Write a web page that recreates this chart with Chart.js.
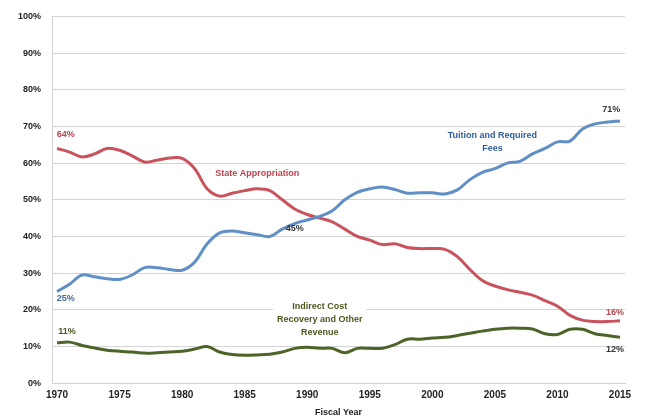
<!DOCTYPE html>
<html>
<head>
<meta charset="utf-8">
<script src="https://cdn.jsdelivr.net/npm/chart.js@4"></script>
<style>
  html, body { margin: 0; padding: 0; background: #fff; }
  #wrap { width: 661px; height: 420px; }
</style>
</head>
<body>
<div id="wrap"><canvas id="chart"></canvas></div>
<script>
const years = [];
for (let y = 1970; y <= 2015; y++) years.push(y);

const tuition = [25,27,29.5,29,28.5,28.3,29.5,31.5,31.5,31,30.8,33,38,41,41.5,41,40.5,40,42,43.5,
  44.5,45.5,47,50,52,53,53.5,52.8,51.8,51.9,51.9,51.6,52.7,55.5,57.5,58.5,60,60.5,62.5,64,
  65.8,66,69.3,70.7,71.2,71.5];
const state = [64,63,61.7,62.5,64,63.5,62,60.3,60.8,61.4,61.3,58.5,53,51,51.8,52.5,53,52.5,50,47.5,
  46,45,44,42,40,39,37.8,38,37,36.7,36.7,36.5,34.5,31,28,26.5,25.5,24.8,24,22.5,
  21,18.5,17.2,16.8,16.8,17];
const indirect = [11,11.2,10.3,9.6,9,8.7,8.5,8.2,8.3,8.5,8.7,9.3,10,8.5,7.8,7.6,7.7,7.9,8.5,9.5,
  9.8,9.5,9.5,8.3,9.5,9.5,9.5,10.5,12,12,12.3,12.5,13,13.6,14.2,14.7,15,15,14.8,13.5,
  13.3,14.7,14.7,13.5,13,12.5];

const xTicks = [1970,1975,1980,1985,1990,1995,2000,2005,2010,2015];
const yTicks = [0,10,20,30,40,50,60,70,80,90,100];

// text notes placed in data coordinates
const notes = [
  {x:1970.7, y:67.9, lines:['64%'], color:'#b5434c'},
  {x:1970.7, y:23.1, lines:['25%'], color:'#46679a'},
  {x:1970.8, y:14.1, lines:['11%'], color:'#4b5a25'},
  {x:1989.0, y:42.2, lines:['45%'], color:'#333'},
  {x:2014.3, y:74.7, lines:['71%'], color:'#333'},
  {x:2014.6, y:19.3, lines:['16%'], color:'#b5434c'},
  {x:2014.6, y:9.2, lines:['12%'], color:'#333'},
  {x:1986, y:57.3, lines:['State Appropriation'], color:'#c2404b'},
  {x:2004.8, y:67.4, lines:['Tuition and Required','Fees'], color:'#2f5d9c'},
  {x:1991, y:20.9, lines:['Indirect Cost','Recovery and Other','Revenue'], color:'#4a5a1f', bg:true}
];

const notePlugin = {
  id: 'notes',
  afterDatasetsDraw(chart) {
    const ctx = chart.ctx;
    const xs = chart.scales.x, ys = chart.scales.y;
    ctx.save();
    ctx.font = 'bold 9px "Liberation Sans", Arial, sans-serif';
    ctx.textAlign = 'center';
    ctx.textBaseline = 'middle';
    notes.forEach(n => {
      const px = xs.getPixelForValue(n.x);
      const py = ys.getPixelForValue(n.y);
      if (n.bg) {
        const w = Math.max(...n.lines.map(l => ctx.measureText(l).width)) + 8;
        const h = n.lines.length * 13 + 4;
        ctx.fillStyle = '#fff';
        ctx.fillRect(px - w / 2, py - 8, w, h);
      }
      ctx.fillStyle = n.color;
      n.lines.forEach((l, i) => ctx.fillText(l, px, py + i * 13));
    });
    ctx.restore();
  }
};

const mkData = arr => arr.map((v, i) => ({x: years[i], y: v}));
const tickFont = {size: 9, weight: 'bold', family: '"Liberation Sans", Arial'};

new Chart(document.getElementById('chart'), {
  type: 'line',
  data: {
    datasets: [
      {label:'Tuition and Required Fees', data: mkData(tuition), borderColor:'#5f8fc6', borderWidth:3, pointRadius:0, tension:0.35},
      {label:'State Appropriation', data: mkData(state), borderColor:'#c9525c', borderWidth:3, pointRadius:0, tension:0.35},
      {label:'Indirect Cost Recovery and Other Revenue', data: mkData(indirect), borderColor:'#4e6327', borderWidth:3, pointRadius:0, tension:0.35}
    ]
  },
  options: {
    responsive: true,
    maintainAspectRatio: false,
    animation: false,
    layout: {padding: {top: 6, right: 36, left: 7, bottom: -2}},
    plugins: {legend: {display: false}, tooltip: {enabled: false}},
    scales: {
      x: {
        type: 'linear', min: 1969.6, max: 2015.4,
        afterBuildTicks: s => { s.ticks = xTicks.map(v => ({value: v})); },
        grid: {display: false, drawTicks: false},
        border: {color: '#d0d0d0'},
        ticks: {color: '#222', font: {size: 10, weight: 'bold', family: '"Liberation Sans", Arial'}, padding: 6, maxRotation: 0, callback: v => String(v)},
        title: {display: true, text: 'Fiscal Year', color: '#222', font: {size: 9, weight: 'bold', family: '"Liberation Sans", Arial'}, padding: {top: 0}}
      },
      y: {
        min: 0, max: 100,
        afterBuildTicks: s => { s.ticks = yTicks.map(v => ({value: v})); },
        grid: {color: '#d4d4d4', lineWidth: 1, drawTicks: false},
        border: {color: '#d0d0d0'},
        ticks: {color: '#222', font: tickFont, padding: 11, callback: v => v + '%'}
      }
    }
  },
  plugins: [notePlugin]
});
</script>
</body>
</html>
